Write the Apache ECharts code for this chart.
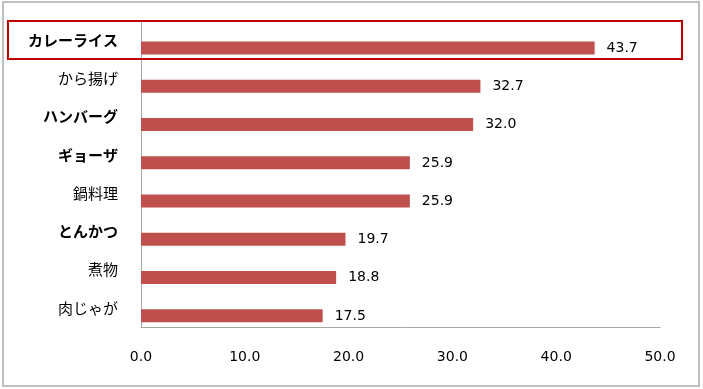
<!DOCTYPE html>
<html><head><meta charset="utf-8">
<script src="https://cdn.jsdelivr.net/npm/echarts@6/dist/echarts.min.js"></script>
<style>html,body{margin:0;padding:0;background:#fff}#c{width:703px;height:389px}</style>
</head><body><div id="c"></div>
<script>
const categories = ['カレーライス','から揚げ','ハンバーグ','ギョーザ','鍋料理','とんかつ','煮物','肉じゃが'];
const boldCats = ['カレーライス','ハンバーグ','ギョーザ','とんかつ'];
const values = [43.7, 32.7, 32.0, 25.9, 25.9, 19.7, 18.8, 17.5];
const xTicks = {min: 0, max: 50, interval: 10};

const chart = echarts.init(document.getElementById('c'));
chart.setOption({
  animation: false,
  backgroundColor: '#fff',
  grid: {left: 141, right: 43, top: 21, bottom: 62},
  xAxis: {
    type: 'value', min: xTicks.min, max: xTicks.max, interval: xTicks.interval,
    axisLine: {show: true, lineStyle: {color: '#a6a6a6', width: 1}},
    axisTick: {show: false},
    splitLine: {show: false},
    axisLabel: {margin: 23, color: '#000', fontSize: 14, fontFamily: 'DejaVu Sans',
      formatter: v => v.toFixed(1)}
  },
  yAxis: {
    type: 'category', data: categories, inverse: true,
    axisLine: {show: true, lineStyle: {color: '#a6a6a6', width: 1}},
    axisTick: {show: false},
    axisLabel: {margin: 23, color: '#000', fontSize: 15, fontFamily: 'Noto Sans CJK JP',
      formatter: v => boldCats.includes(v) ? '{b|' + v + '}' : '{n|' + v + '}',
      rich: {b: {fontWeight: 'bold', fontSize: 15, fontFamily: 'Noto Sans CJK JP', color: '#000'},
             n: {fontWeight: 'normal', fontSize: 15, fontFamily: 'Noto Sans CJK JP', color: '#000'}}}
  },
  series: [
    {type: 'bar', data: categories.map(() => '-'), barWidth: 13, barGap: '23%', silent: true},
    {type: 'bar', data: values, barWidth: 13, barGap: '23%',
     itemStyle: {color: '#c0504d'},
     label: {show: true, position: 'right', distance: 12, color: '#000', fontSize: 14,
       fontFamily: 'DejaVu Sans', formatter: p => p.value.toFixed(1)}}
  ],
  graphic: [
    {type: 'rect', shape: {x: 3, y: 2, width: 696, height: 384},
     style: {fill: 'none', stroke: '#bfbfbf', lineWidth: 2}, silent: true},
    {type: 'rect', shape: {x: 8, y: 21, width: 674, height: 38},
     style: {fill: 'none', stroke: '#c00000', lineWidth: 2}, silent: true, z: 100}
  ]
});
</script></body></html>
